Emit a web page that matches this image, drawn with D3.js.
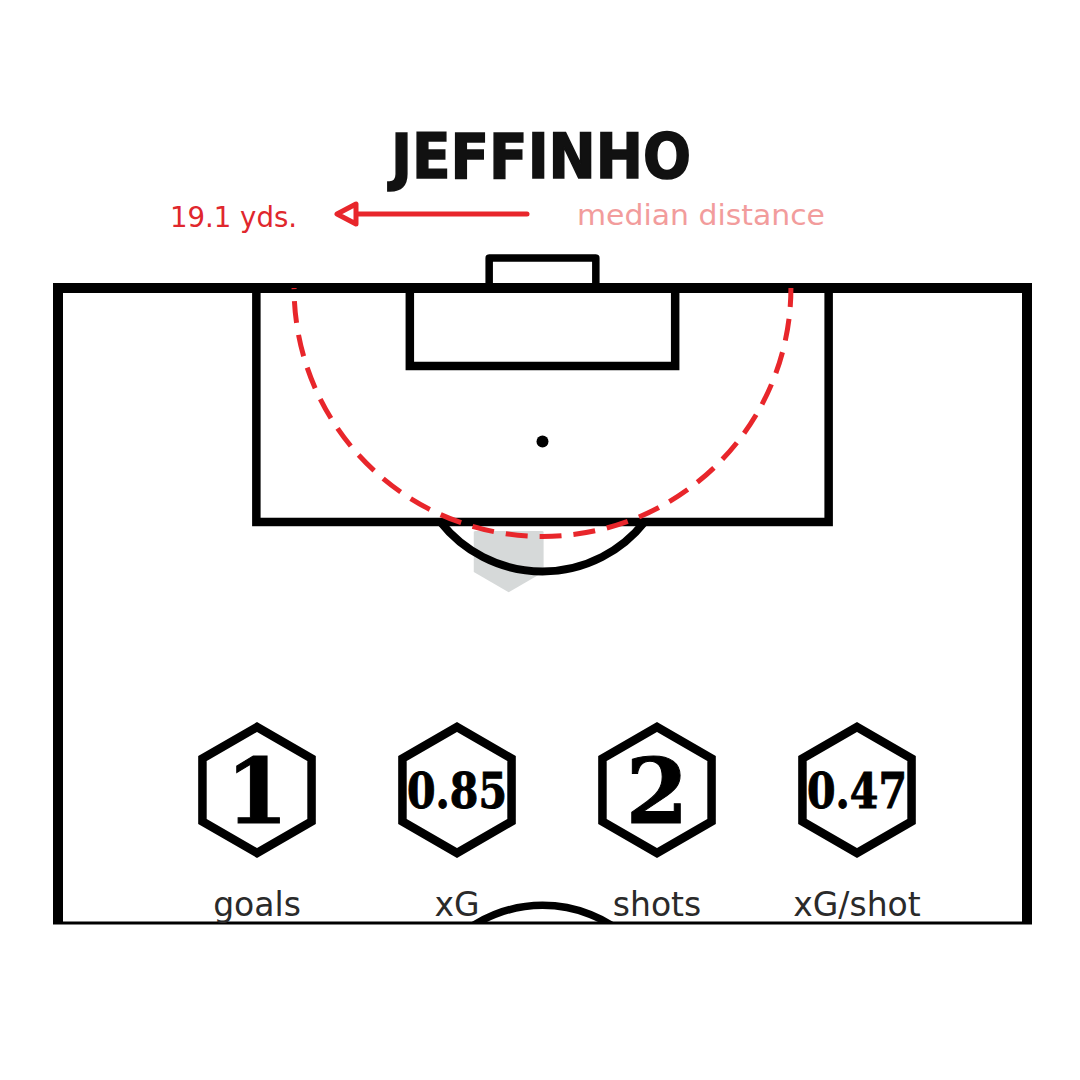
<!DOCTYPE html>
<html><head><meta charset="utf-8">
<script src="https://cdn.jsdelivr.net/npm/d3@7"></script>
<style>html,body{margin:0;padding:0;background:#fff;}svg{display:block;}</style>
</head><body>
<svg id="c" width="1080" height="1080"></svg>
<script>
// ---- data ----
const playerName = ["JEFFINHO"];
const medianDistance = [19.1];           // yards from goal centre
const statLabels = ["goals", "xG", "shots", "xG/shot"];
const statValues = ["1", "0.85", "2", "0.47"];
const shotHexX = [-2.6];                 // yards across (0 = centre)
const shotHexY = [20.3];                 // yards from goal line
const shotHexCount = [1];

// ---- pitch (yards) ----
const halfWidth = 37.25, visibleLength = 48.85;
const svg = d3.select("#c");
const x = d3.scaleLinear().domain([-halfWidth, halfWidth]).range([58, 1027]);
const y = d3.scaleLinear().domain([0, visibleLength]).range([288, 923]);
const k = x(1) - x(0);

svg.append("rect").attr("width",1080).attr("height",1080).attr("fill","#fff");

const defs = svg.append("defs");
defs.append("clipPath").attr("id","hexclip").append("rect")
  .attr("x",0).attr("y",y(18)+9).attr("width",1080).attr("height",400);
defs.append("clipPath").attr("id","belowGoal").append("rect")
  .attr("x",0).attr("y",y(0)).attr("width",1080).attr("height",800);
defs.append("clipPath").attr("id","abovePitchEnd").append("rect")
  .attr("x",0).attr("y",0).attr("width",1080).attr("height",y(visibleLength));

// shot hexbin (pointy-top)
const hexR = 3.1;
const hexPts = r => d3.range(6).map(i => {
  const a = Math.PI/3*i + Math.PI/6;
  return [r*Math.cos(a), r*Math.sin(a)];
});
svg.append("g").attr("clip-path","url(#hexclip)")
  .selectAll("path").data(shotHexX.map((d,i)=>({x:d,y:shotHexY[i],n:shotHexCount[i]})))
  .join("path")
  .attr("transform", d => `translate(${x(d.x)},${y(d.y)})`)
  .attr("d", d => "M" + hexPts(hexR*k).join("L") + "Z")
  .attr("fill", "#d6d9d9");

const lines = svg.append("g").attr("fill","none").attr("stroke","#000");

// D arc
const spotY = 11.8;
const dR = 10;
const dHalf = Math.acos((18 - spotY)/dR);
lines.append("path")
  .attr("transform", `translate(${x(0)},${y(spotY)})`)
  .attr("d", d3.arc()({innerRadius:dR*k, outerRadius:dR*k, startAngle:Math.PI - dHalf, endAngle:Math.PI + dHalf}))
  .attr("stroke-width", 8);

// centre circle (top visible)
const ccY = 57.5;
lines.append("circle").attr("clip-path","url(#abovePitchEnd)")
  .attr("cx", x(0)).attr("cy", y(ccY)).attr("r", 10*k).attr("stroke-width", 7.5);

// penalty box
lines.append("rect").attr("x",x(-22)).attr("y",y(0)).attr("width",x(22)-x(-22)).attr("height",y(18)-y(0))
  .attr("stroke-width",8.5);
// six-yard box
lines.append("rect").attr("x",x(-10.2)).attr("y",y(0)).attr("width",x(10.2)-x(-10.2)).attr("height",y(6)-y(0))
  .attr("stroke-width",8.5);
// goal
lines.append("rect").attr("x",x(-4.1)).attr("y",y(-2.3)).attr("width",x(4.1)-x(-4.1)).attr("height",y(0)-y(-2.3))
  .attr("stroke-width",7.5).attr("stroke-linejoin","round");
// outer: top + sides
lines.append("path")
  .attr("d", `M${x(-halfWidth)},${y(visibleLength)}L${x(-halfWidth)},${y(0)}L${x(halfWidth)},${y(0)}L${x(halfWidth)},${y(visibleLength)}`)
  .attr("stroke-width",10);
// bottom edge (thin)
lines.append("line").attr("x1",x(-halfWidth)-5).attr("x2",x(halfWidth)+5)
  .attr("y1",y(visibleLength)).attr("y2",y(visibleLength)).attr("stroke-width",3);

// penalty spot
svg.append("circle").attr("cx",x(0)).attr("cy",y(spotY)).attr("r",6).attr("fill","#000");

// median distance circle
svg.append("g").attr("clip-path","url(#belowGoal)")
  .selectAll("circle").data(medianDistance).join("circle")
  .attr("cx", x(0)).attr("cy", y(0)).attr("r", d => d*k)
  .attr("fill","none").attr("stroke","#e8262b").attr("stroke-width",5)
  .attr("stroke-dasharray","22,12").attr("stroke-dashoffset", 3);

// title
svg.append("text").text(playerName[0])
  .attr("x",541).attr("y",178).attr("text-anchor","middle")
  .attr("font-family","DejaVu Sans").attr("font-weight","bold").attr("font-stretch","condensed")
  .attr("font-size",62).attr("fill","#111")
  .attr("stroke","#111").attr("stroke-width",1.5)
  .attr("textLength",300).attr("lengthAdjust","spacingAndGlyphs");

// median distance legend
svg.append("text").text(d3.format(".1f")(medianDistance[0]) + " yds.")
  .attr("x",170).attr("y",227)
  .attr("font-family","DejaVu Sans").attr("font-stretch","condensed")
  .attr("font-size",29).attr("fill","#e0272d")
  .attr("textLength",127).attr("lengthAdjust","spacingAndGlyphs");
svg.append("text").text("median distance")
  .attr("x",577).attr("y",225)
  .attr("font-family","DejaVu Sans").attr("font-stretch","condensed")
  .attr("font-size",29).attr("fill","#f29c9c")
  .attr("textLength",248).attr("lengthAdjust","spacingAndGlyphs");
svg.append("line").attr("x1",355).attr("x2",527).attr("y1",214).attr("y2",214)
  .attr("stroke","#e8262b").attr("stroke-width",5).attr("stroke-linecap","round");
svg.append("path").attr("d","M337,214L356,204L356,224Z")
  .attr("fill","#fff").attr("stroke","#e8262b").attr("stroke-width",5).attr("stroke-linejoin","round");

// stat hexagons
const sx = d3.scalePoint().domain(statLabels).range([257, 857]);
const hexCY = 790, statR = 63;
const g = svg.append("g").selectAll("g").data(statLabels.map((l,i)=>({label:l, value:statValues[i]})))
  .join("g").attr("transform", d => `translate(${sx(d.label)},0)`);
g.append("path")
  .attr("transform", `translate(0,${hexCY})`)
  .attr("d", "M" + d3.range(6).map(i => {
      const a = Math.PI/3*i - Math.PI/2;
      return [statR*Math.cos(a), statR*Math.sin(a)];
    }).join("L") + "Z")
  .attr("fill","#fff").attr("stroke","#000").attr("stroke-width",8.5).attr("stroke-linejoin","miter");
g.append("text").text(d => d.value)
  .attr("text-anchor","middle")
  .attr("y", d => d.value.length === 1 ? hexCY + 33 : hexCY + 18)
  .attr("font-family","DejaVu Serif").attr("font-weight","bold")
  .attr("font-size", d => d.value.length === 1 ? 90 : 49)
  .attr("fill","#000").attr("stroke","#000").attr("stroke-width",1)
  .each(function(d){ if (d.value.length > 1) d3.select(this).attr("textLength",100).attr("lengthAdjust","spacingAndGlyphs"); });
g.append("text").text(d => d.label)
  .attr("text-anchor","middle").attr("y", 916)
  .attr("font-family","DejaVu Sans")
  .attr("font-size",33).attr("fill","#2a2a2a");
</script>
</body></html>
